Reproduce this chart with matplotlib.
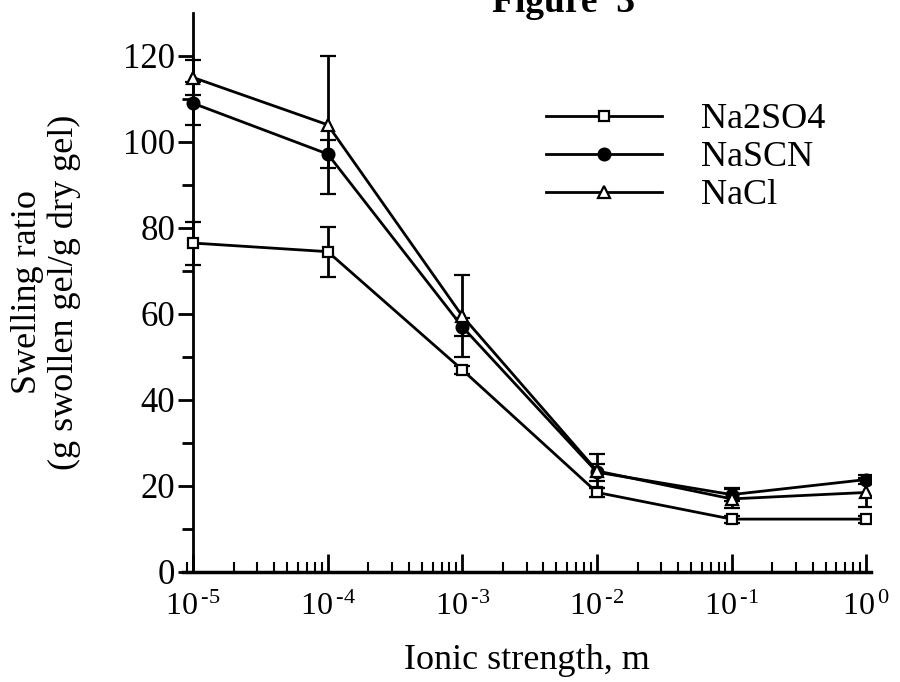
import numpy as np
import matplotlib.pyplot as plt
from matplotlib.ticker import FixedLocator, FuncFormatter, LogLocator, NullFormatter

# ionic strength, m
ionic = [1e-5, 1e-4, 1e-3, 1e-2, 1e-1, 1.0]

# swelling ratio, g swollen gel / g dry gel
na2so4 = [76.5, 74.5, 47.0, 18.5, 12.3, 12.3]
na2so4_err = [5.0, 5.8, 1.0, 1.0, 0.8, 0.8]
nascn = [109.0, 97.2, 57.0, 23.2, 18.0, 21.5]
nascn_err = [5.0, 3.3, 2.0, 2.0, 1.5, 1.0]
nacl = [115.0, 104.0, 59.5, 23.5, 17.0, 18.5]
nacl_err = [4.0, 16.0, 9.5, 4.0, 2.2, 3.4]

yticks = [0, 20, 40, 60, 80, 100, 120]


def main():
    plt.rcParams['font.family'] = ['Liberation Serif', 'DejaVu Serif']
    plt.rcParams['mathtext.fontset'] = 'custom'
    plt.rcParams['mathtext.rm'] = 'Liberation Serif'
    plt.rcParams['font.size'] = 26

    fig = plt.figure(figsize=(9, 6.82), dpi=100)
    ax = fig.add_axes([183/900, 1 - 572/682, (871 - 183)/900, (572 - 13)/682])

    common = dict(color='black', lw=2, elinewidth=2, capsize=5.5, capthick=2,
                  markeredgewidth=1.6, markeredgecolor='black')
    e1 = ax.errorbar(ionic, na2so4, yerr=na2so4_err, marker='s', ms=7.5,
                     markerfacecolor='white', zorder=3, **common)
    e2 = ax.errorbar(ionic, nascn, yerr=nascn_err, marker='o', ms=8.5,
                     markerfacecolor='black', zorder=4, **common)
    e3 = ax.errorbar(ionic, nacl, yerr=nacl_err, marker='^', ms=8,
                     markerfacecolor='white', zorder=5, **common)

    ax.set_xscale('log')
    ax.set_xlim(10**-5.075, 10**0.035)
    ax.set_ylim(0, 130)

    ax.spines['top'].set_visible(False)
    ax.spines['right'].set_visible(False)
    ax.spines['left'].set_position(('data', 1e-5))
    ax.spines['left'].set_bounds(0, 130)
    ax.spines['left'].set_linewidth(2)
    ax.spines['bottom'].set_linewidth(2.5)

    ax.yaxis.set_major_locator(FixedLocator(yticks))
    ax.yaxis.set_minor_locator(FixedLocator([10, 30, 50, 70, 90, 110]))
    ax.tick_params(axis='y', which='major', direction='out', length=11, width=2,
                   pad=2, labelsize=25)
    ax.tick_params(axis='y', which='minor', direction='out', length=8, width=2)

    ax.xaxis.set_major_locator(LogLocator(base=10, numticks=10))
    ax.xaxis.set_minor_locator(LogLocator(base=10, subs=np.arange(2, 10), numticks=10))
    ax.xaxis.set_minor_formatter(NullFormatter())
    ax.xaxis.set_major_formatter(FuncFormatter(
        lambda v, p: '$\\mathregular{10^{\\,\u2010%d}}$' % abs(int(round(np.log10(v))))
        if v < 1 else '$\\mathregular{10^{\\,0}}$'))
    ax.tick_params(axis='x', which='major', direction='in', length=13, width=2,
                   pad=15, labelsize=23)
    ax.tick_params(axis='x', which='minor', direction='in', length=7, width=1.5)

    ax.set_xlabel('Ionic strength, m', labelpad=16)
    ax.set_ylabel('Swelling ratio\n(g swollen gel/g dry gel)', linespacing=1.15, labelpad=30)

    ax.legend(handles=[e1[0], e2[0], e3[0]], labels=['Na2SO4', 'NaSCN', 'NaCl'],
              loc='upper left', bbox_to_anchor=(546/900, 1 - 103/682),
              bbox_transform=fig.transFigure, frameon=False,
              handlelength=3.2, handletextpad=1.1, labelspacing=0.13,
              borderpad=0, borderaxespad=0, numpoints=1)

    fig.text(564/900, 1 - 12/682, 'Figure  3', ha='center', va='baseline',
             fontsize=27, fontweight='bold')

    plt.savefig('out.png', dpi=100)


if __name__ == '__main__':
    main()
